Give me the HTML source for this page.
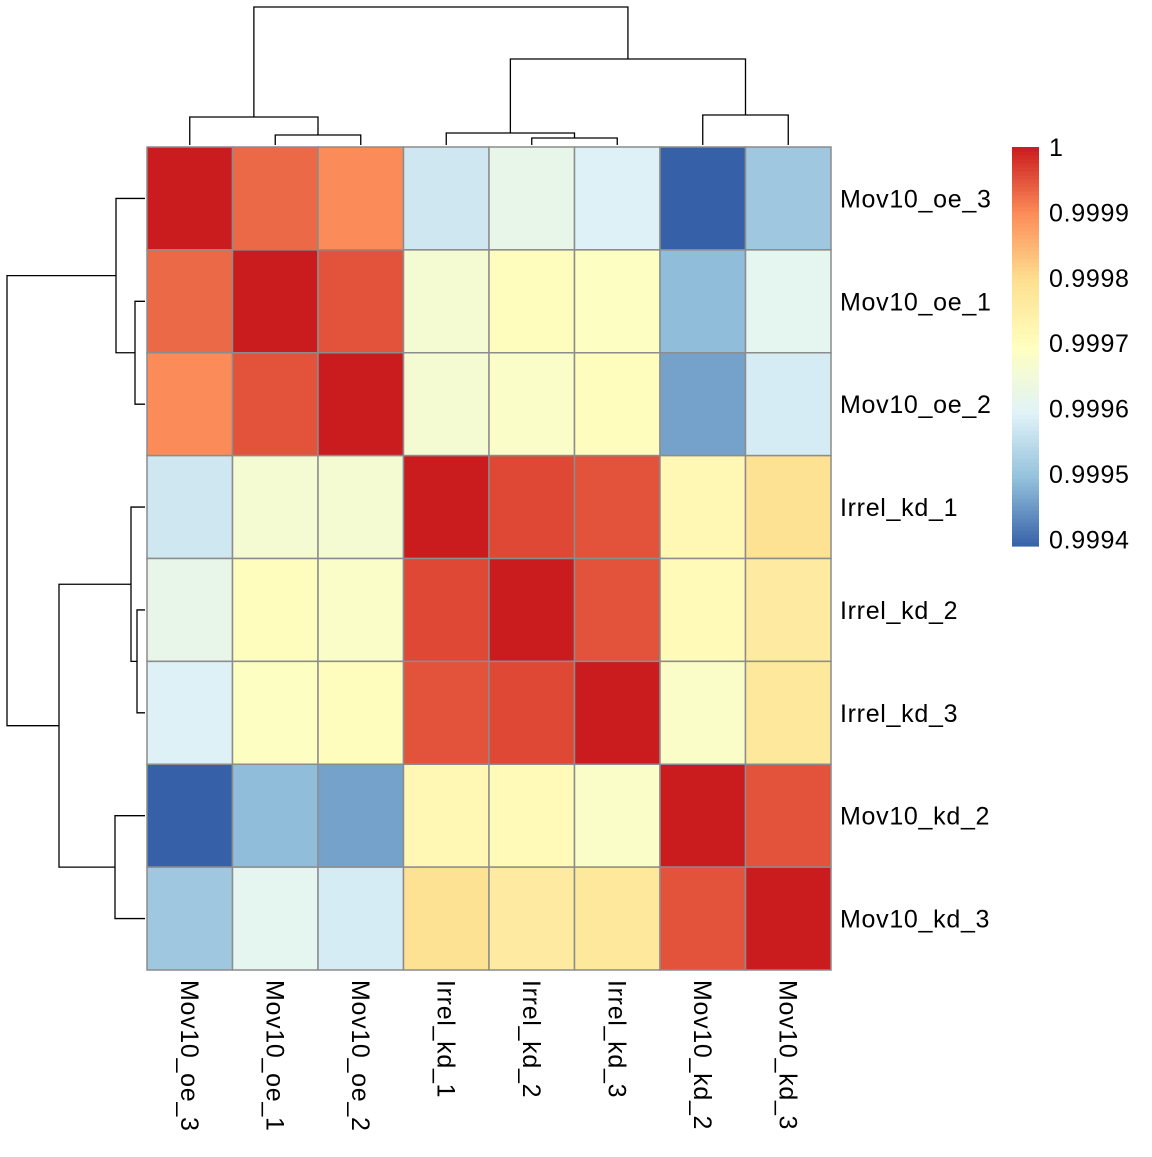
<!DOCTYPE html>
<html><head><meta charset="utf-8"><style>
body{margin:0;background:#fff;}
svg text{font-family:"Liberation Sans",Arial,sans-serif;font-size:25px;letter-spacing:0.7px;fill:#000;}
</style></head><body>
<svg id="chart" width="1152" height="1152" xmlns="http://www.w3.org/2000/svg">
<rect width="1152" height="1152" fill="#fff"/>
<g id="cells"></g>
<g id="rowlabels"></g>
<g id="collabels"></g>
<g id="dendro" stroke="#000" stroke-width="1.3" fill="none"></g>
<g id="legend"></g>
</svg>
<script>
const rowNames=["Mov10_oe_3","Mov10_oe_1","Mov10_oe_2","Irrel_kd_1","Irrel_kd_2","Irrel_kd_3","Mov10_kd_2","Mov10_kd_3"];
const colNames=["Mov10_oe_3","Mov10_oe_1","Mov10_oe_2","Irrel_kd_1","Irrel_kd_2","Irrel_kd_3","Mov10_kd_2","Mov10_kd_3"];
const values=[
[1.0,0.99993,0.99990,0.99957,0.99962,0.99959,0.99939,0.99951],
[0.99993,1.0,0.99995,0.99966,0.99970,0.99969,0.99949,0.99961],
[0.99990,0.99995,1.0,0.99966,0.99968,0.99970,0.99946,0.99958],
[0.99957,0.99966,0.99966,1.0,0.99996,0.99995,0.99972,0.99979],
[0.99962,0.99970,0.99968,0.99996,1.0,0.99995,0.99971,0.99976],
[0.99959,0.99969,0.99970,0.99995,0.99996,1.0,0.99968,0.99977],
[0.99939,0.99949,0.99946,0.99972,0.99971,0.99968,1.0,0.99995],
[0.99951,0.99961,0.99958,0.99979,0.99976,0.99977,0.99995,1.0]];
const legendTicks=[1,0.9999,0.9998,0.9997,0.9996,0.9995,0.9994];
const legendLabels=["1","0.9999","0.9998","0.9997","0.9996","0.9995","0.9994"];
const colMerges=[[1,2,135],[0,"m0",117],[4,5,138],[3,"m2",133],[6,7,115],["m3","m4",59],["m1","m5",7]];
const rowMerges=[[1,2,135],[0,"m0",116],[4,5,137],[3,"m2",131],[6,7,115],["m3","m4",59],["m1","m5",7]];

const vmin=0.99939,vmax=1.0;
const stops=["#3661A8","#91BFDB","#E0F3F8","#FFFFBF","#FEE090","#FC8D59","#CA1B1E"];
function hex(h){return [1,3,5].map(i=>parseInt(h.substr(i,2),16));}
function color(v){let t=Math.max(0,Math.min(1,(v-vmin)/(vmax-vmin)))*(stops.length-1);
 let i=Math.min(Math.floor(t),stops.length-2),f=t-i;const a=hex(stops[i]),b=hex(stops[i+1]);
 return "rgb("+a.map((x,k)=>Math.round(x+(b[k]-x)*f)).join(",")+")";}
const X0=147,X1=831,Y0=147,Y1=970;
const cw=(X1-X0)/colNames.length,rh=(Y1-Y0)/rowNames.length;
const xc=j=>X0+cw*(j+0.5), yc=i=>Y0+rh*(i+0.5);
const NS="http://www.w3.org/2000/svg";
function mk(tag,attrs,parent){const e=document.createElementNS(NS,tag);for(const k in attrs)e.setAttribute(k,attrs[k]);parent.appendChild(e);return e;}
const cells=document.getElementById('cells');
values.forEach((row,i)=>row.forEach((v,j)=>{
 const r=mk('rect',{x:X0+cw*j,y:Y0+rh*i,width:cw,height:rh,fill:color(v),stroke:"#8c8c8c","stroke-width":1.5},cells);
 
 
}));
const rl=document.getElementById('rowlabels');
rowNames.forEach((n,i)=>{const t=mk('text',{x:840,y:yc(i)+9},rl);t.textContent=n;
 
 });
const cl=document.getElementById('collabels');
colNames.forEach((n,j)=>{const t=mk('text',{transform:`translate(${xc(j)-9},980) rotate(90)`},cl);t.textContent=n;
 
 });
const dg=document.getElementById('dendro');
function dendro(merges,pos,leafEdge,vertical){
 const node={};
 merges.forEach((m,k)=>{
  const get=id=>typeof id==="number"?{p:pos(id),h:leafEdge}:node[id];
  const A=get(m[0]),B=get(m[1]),h=m[2];
  let d=vertical?`M${A.p},${A.h}V${h}H${B.p}V${B.h}`:`M${A.h},${A.p}H${h}V${B.p}H${B.h}`;
  const p=mk('path',{d:d},dg);
  
  
  node["m"+k]={p:(A.p+B.p)/2,h:h};
 });
}
dendro(colMerges,xc,145,true);
dendro(rowMerges,yc,145,false);
const lg=document.getElementById('legend');
const LY0=147,LY1=546;
const ly=v=>LY1-(v-vmin)/(vmax-vmin)*(LY1-LY0);
for(let k=0;k<100;k++){const v0=vmin+(vmax-vmin)*k/100,v1=vmin+(vmax-vmin)*(k+1)/100;
 const r=mk('rect',{x:1012,y:ly(v1),width:27,height:ly(v0)-ly(v1)+0.6,fill:color((v0+v1)/2)},lg);
 
 }
legendTicks.forEach((v,k)=>{const t=mk('text',{x:1049,y:ly(v)+9},lg);t.textContent=legendLabels[k];
 
 });
</script>
</body></html>
